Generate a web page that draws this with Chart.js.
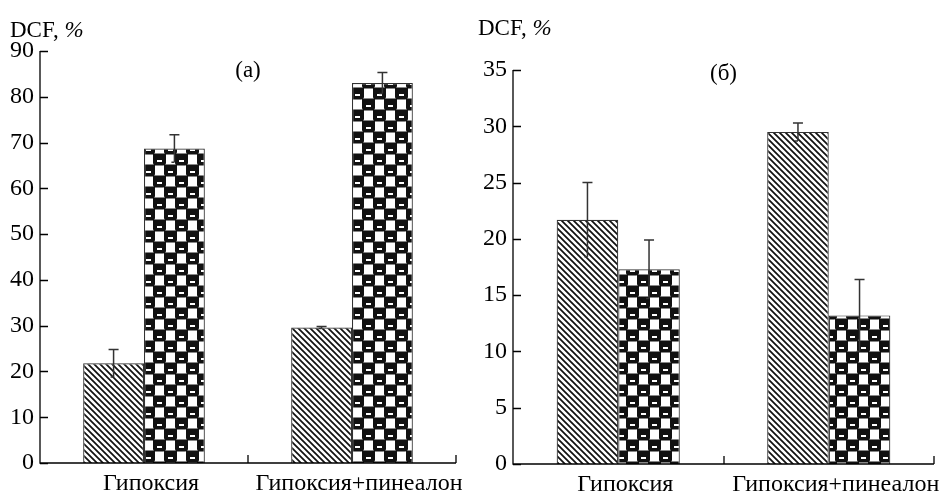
<!DOCTYPE html>
<html>
<head>
<meta charset="utf-8">
<script src="https://cdn.jsdelivr.net/npm/chart.js@4.4.0/dist/chart.umd.min.js"></script>
<style>
  body { margin: 0; background: #fff; width: 946px; height: 493px; overflow: hidden; position: relative; }
  canvas { position: absolute; top: 0; }
  #chartA { left: 0; }
  #chartB { left: 473px; }
</style>
</head>
<body>
<canvas id="chartA" width="473" height="493"></canvas>
<canvas id="chartB" width="473" height="493"></canvas>
<script>
// Данные
const categories = ['Гипоксия', 'Гипоксия+пинеалон'];

// панель (а)
const aHatched = [21.8, 29.6];
const aHatchedErr = [3.0, 0.2];
const aChecked = [68.7, 83.0];
const aCheckedErr = [3.0, 2.3];
const aTicks = [0, 10, 20, 30, 40, 50, 60, 70, 80, 90];

// панель (б)
const bHatched = [21.7, 29.5];
const bHatchedErr = [3.3, 0.8];
const bChecked = [17.3, 13.2];
const bCheckedErr = [2.6, 3.2];
const bTicks = [0, 5, 10, 15, 20, 25, 30, 35];

const FONT = "'Liberation Serif', 'DejaVu Serif', serif";
Chart.defaults.font.family = FONT;
Chart.defaults.color = '#000';

// Штриховка
function hatchPattern() {
    const s = 6;
    const c = document.createElement('canvas');
    c.width = s; c.height = s;
    const g = c.getContext('2d');
    g.fillStyle = '#fff'; g.fillRect(0, 0, s, s);
    g.strokeStyle = '#111'; g.lineWidth = 1.7;
    g.beginPath();
    for (let x0 = -s; x0 <= s; x0 += s) {
        g.moveTo(x0 - 1, -1); g.lineTo(x0 + s + 1, s + 1);
    }
    g.stroke();
    return g.createPattern(c, 'repeat');
}

// Клетка с "чашками"
function checkerPattern() {
    const s = 11;
    const c = document.createElement('canvas');
    c.width = 2 * s; c.height = 2 * s;
    const g = c.getContext('2d');
    g.fillStyle = '#fff'; g.fillRect(0, 0, 2 * s, 2 * s);
    function cell(x, y) {
        g.fillStyle = '#111';
        g.beginPath();
        g.roundRect(x - 1, y - 0.5, s + 2, s + 1, [0, 0, 3, 3]);
        g.fill();
        g.fillStyle = '#fff';
        g.fillRect(x + 3, y + 6, 5, 2);
    }
    cell(0, 0);
    cell(2 * s, 0);
    cell(s, s);
    cell(-s, s);
    cell(0, 2 * s);
    cell(s, -s);
    return g.createPattern(c, 'repeat');
}

// Планки погрешностей
const errorBars = {
    id: 'errorBars',
    afterDatasetsDraw(chart, args, opts) {
        const ctx = chart.ctx;
        const y = chart.scales.y;
        ctx.save();
        ctx.strokeStyle = '#333';
        ctx.lineWidth = 1.5;
        chart.data.datasets.forEach((ds, di) => {
            const meta = chart.getDatasetMeta(di);
            meta.data.forEach((bar, i) => {
                const v = ds.data[i], e = ds.err[i];
                const top = y.getPixelForValue(v + e);
                const bot = y.getPixelForValue(v - e);
                ctx.beginPath();
                ctx.moveTo(bar.x, top); ctx.lineTo(bar.x, bot);
                ctx.moveTo(bar.x - 5, top); ctx.lineTo(bar.x + 5, top);
                ctx.moveTo(bar.x - 3, bot); ctx.lineTo(bar.x, bot);
                ctx.stroke();
            });
        });
        ctx.restore();
    }
};

// Оси и подписи
const axesAndText = {
    id: 'axesAndText',
    afterDraw(chart, args, opts) {
        const ctx = chart.ctx;
        const a = chart.chartArea;
        const x = chart.scales.x, y = chart.scales.y;
        ctx.save();
        ctx.strokeStyle = '#000';
        ctx.lineWidth = 1.3;
        ctx.beginPath();
        ctx.moveTo(a.left, a.top); ctx.lineTo(a.left, a.bottom); ctx.lineTo(a.right, a.bottom);
        y.ticks.forEach(t => {
            const py = Math.round(y.getPixelForValue(t.value)) + 0.5;
            ctx.moveTo(a.left, py); ctx.lineTo(a.left + 8, py);
        });
        const step = (a.right - a.left) / categories.length;
        categories.forEach((c, i) => {
            const px = Math.round(x.getPixelForValue(i) + step / 2);
            ctx.moveTo(px, a.bottom); ctx.lineTo(px, a.bottom - 8);
        });
        ctx.stroke();

        ctx.fillStyle = '#000';
        ctx.textBaseline = 'alphabetic';
        ctx.font = '23px ' + FONT;
        ctx.fillText('DCF, ', opts.titleX, opts.titleY);
        const w = ctx.measureText('DCF, ').width;
        ctx.font = 'italic 23px ' + FONT;
        ctx.fillText('%', opts.titleX + w, opts.titleY);
        ctx.font = '23px ' + FONT;
        ctx.textAlign = 'center';
        ctx.fillText(opts.panel, a.left + (a.right - a.left) / 2, opts.panelY);
        ctx.restore();
    }
};

function makeChart(id, hatched, hatchedErr, checked, checkedErr, ticks, pad, opts) {
    const ctx = document.getElementById(id).getContext('2d');
    return new Chart(ctx, {
        type: 'bar',
        data: {
            labels: categories,
            datasets: [
                { data: hatched, err: hatchedErr, backgroundColor: hatchPattern(), borderColor: '#333', borderWidth: 1.2 },
                { data: checked, err: checkedErr, backgroundColor: checkerPattern(), borderColor: '#333', borderWidth: 1.2 }
            ]
        },
        options: {
            responsive: false,
            devicePixelRatio: 1,
            animation: false,
            layout: { padding: pad },
            categoryPercentage: 0.585,
            barPercentage: 1.0,
            plugins: {
                legend: { display: false },
                tooltip: { enabled: false },
                axesAndText: opts
            },
            scales: {
                x: {
                    grid: { display: false, drawTicks: false },
                    border: { display: false },
                    ticks: { color: '#000', font: { family: FONT, size: 24 }, padding: 6, labelOffset: 7, maxRotation: 0, autoSkip: false },
                    afterFit: s => { s.height = 493 - pad.top - opts.plotH; }
                },
                y: {
                    min: ticks[0],
                    max: ticks[ticks.length - 1],
                    afterBuildTicks: s => { s.ticks = ticks.map(v => ({ value: v })); },
                    grid: { display: false, drawTicks: false },
                    border: { display: false },
                    ticks: { color: '#000', font: { family: FONT, size: 24 }, padding: 6 },
                    afterFit: s => { s.width = 40; }
                }
            }
        },
        plugins: [errorBars, axesAndText]
    });
}

makeChart('chartA', aHatched, aHatchedErr, aChecked, aCheckedErr, aTicks,
    { top: 51, right: 17, bottom: 0, left: 0 },
    { titleX: 10, titleY: 37, panel: '(а)', panelY: 77, plotH: 412 });

makeChart('chartB', bHatched, bHatchedErr, bChecked, bCheckedErr, bTicks,
    { top: 70, right: 12, bottom: 0, left: 0 },
    { titleX: 5, titleY: 35, panel: '(б)', panelY: 80, plotH: 394 });
</script>
</body>
</html>
